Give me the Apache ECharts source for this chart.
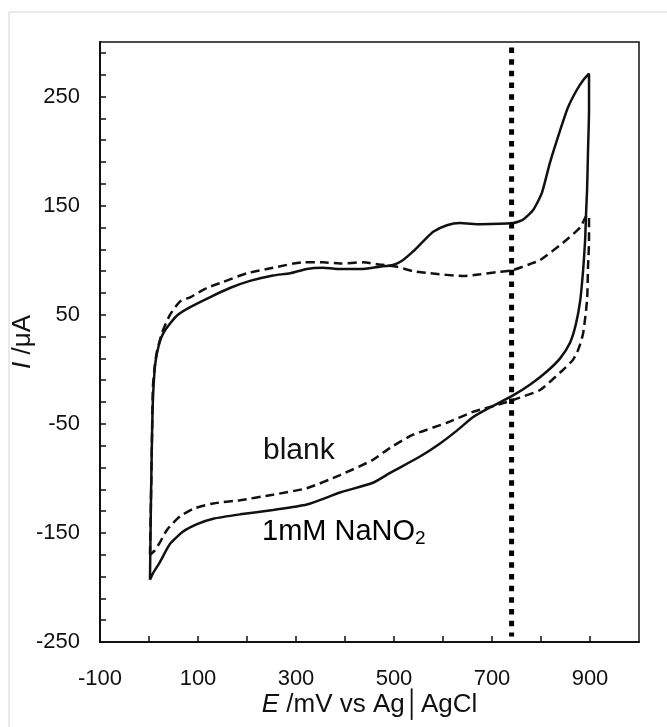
<!DOCTYPE html>
<html>
<head>
<meta charset="utf-8">
<script src="https://cdn.jsdelivr.net/npm/echarts@6/dist/echarts.min.js"></script>
<style>
html, body { margin: 0; padding: 0; background: #fff; }
#chart { width: 667px; height: 727px; }
</style>
</head>
<body>
<div id="chart"></div>
<script>
// tick labels shown on the axes
const xTickLabels = [-100, 100, 300, 500, 700, 900]
const yTickLabels = [-250, -150, -50, 50, 150, 250]

// 1mM NaNO2 (solid), E in mV, I in uA, traced round the loop
const nitriteE = [2, 4, 6, 8, 12, 16, 22, 29, 43, 59, 84, 124, 165, 206, 253, 288, 322, 355, 384, 437,
  471, 498, 518, 539, 559, 580, 608, 635, 676, 743, 763, 784, 802, 818, 839, 855, 873, 886, 898, 898,
  896, 894, 892, 890, 886, 880, 871, 859, 839, 812, 778, 743, 696, 661, 629, 594, 553, 492, 457, 390,
  322, 253, 186, 131, 98, 69, 43, 22, 8, 2]
const nitriteI = [-193, -120, -65, -28, 2, 14, 25, 33, 42, 50, 57, 66, 74.5, 81, 86, 88, 92, 93, 92, 92,
  94, 95.6, 100, 108, 117, 126, 132, 134, 133, 134, 137, 146, 162, 189, 219, 240, 256, 265, 271, 238,
  201, 164, 143, 118, 91, 63, 41, 24, 10, -2, -14, -24, -35, -44, -56, -68, -80, -95, -104, -113,
  -124, -129, -133, -137, -142, -149, -160, -177, -187, -193]

// blank (dashed)
const blankE = [2, 4, 6, 8, 12, 16, 27, 43, 63, 84, 118, 151, 200, 253, 314, 355, 390, 437, 471, 506,
  539, 573, 641, 676, 710, 743, 778, 798, 845, 880, 894, 898, 898, 896, 894, 886, 876, 865, 839, 798,
  757, 731, 676, 661, 608, 539, 492, 457, 390, 322, 253, 186, 131, 90, 63, 37, 22, 12, 2]
const blankI = [-170, -120, -65, -16, 4, 16, 34, 50, 62, 66, 74.5, 80, 88, 93, 98, 98, 97, 98, 96, 94,
  90, 88, 85.5, 87, 89, 91, 96.5, 100, 116, 130, 141, 141, 118, 94, 63.5, 33, 18, 8.5, -3, -19,
  -26, -30, -37, -39, -49, -60, -72, -83, -97, -109, -115, -120, -123, -128, -135, -147, -159, -166, -170]

// dotted marker line
const markerE = [740, 740]
const markerI = [295, -245]

const zip = (xs, ys) => xs.map((x, i) => [x, ys[i]])

const font = '"Liberation Sans", Arial, sans-serif'
const ink = '#111'

const chart = echarts.init(document.getElementById('chart'))

chart.setOption({
  animation: false,
  backgroundColor: '#fff',
  grid: {
    left: 100, right: 28, top: 42, bottom: 85,
    outerBoundsMode: 'none',
    show: true, borderColor: ink, borderWidth: 1.5
  },
  xAxis: {
    type: 'value',
    min: -100,
    max: 1000,
    interval: 100,
    name: '{i|E}{n| /mV vs Ag│AgCl}',
    nameLocation: 'middle',
    nameGap: 50,
    nameMoveOverlap: false,
    nameTextStyle: {
      rich: {
        i: { fontFamily: font, fontSize: 26, fontStyle: 'italic', color: ink },
        n: { fontFamily: font, fontSize: 26, color: ink }
      }
    },
    axisLine: { onZero: false, lineStyle: { color: ink, width: 2 } },
    axisTick: { inside: true, length: 6, lineStyle: { color: ink, width: 1.5 } },
    axisLabel: {
      margin: 26,
      fontFamily: font,
      fontSize: 22,
      color: ink,
      showMaxLabel: false,
      formatter: (v) => (xTickLabels.includes(v) ? String(v) : '')
    },
    splitLine: { show: false }
  },
  yAxis: {
    type: 'value',
    min: -250,
    max: 300,
    interval: 20,
    name: '{i|I}{n| /μA}',
    nameLocation: 'middle',
    nameRotate: 90,
    nameGap: 64,
    nameMoveOverlap: false,
    nameTextStyle: {
      rich: {
        i: { fontFamily: font, fontSize: 26, fontStyle: 'italic', color: ink },
        n: { fontFamily: font, fontSize: 26, color: ink }
      }
    },
    axisLine: { onZero: false, lineStyle: { color: ink, width: 2 } },
    axisTick: { inside: true, length: 6, lineStyle: { color: ink, width: 1.5 } },
    axisLabel: {
      margin: 20,
      fontFamily: font,
      fontSize: 22,
      color: ink,
      showMaxLabel: false,
      formatter: (v) => (yTickLabels.includes(v) ? String(v) : '')
    },
    splitLine: { show: false }
  },
  series: [
    {
      name: '1mM NaNO2',
      type: 'line',
      data: zip(nitriteE, nitriteI),
      showSymbol: false,
      smooth: 0.2,
      lineStyle: { color: ink, width: 2.5 }
    },
    {
      name: 'blank',
      type: 'line',
      data: zip(blankE, blankI),
      showSymbol: false,
      smooth: 0.2,
      lineStyle: { color: ink, width: 2.5, type: [9, 5] }
    },
    {
      name: 'marker',
      type: 'line',
      data: zip(markerE, markerI),
      showSymbol: false,
      lineStyle: { color: '#000', width: 5, type: [5.5, 6.2], cap: 'butt' }
    }
  ],
  graphic: [
    {
      type: 'line',
      shape: { x1: 9, y1: 12, x2: 667, y2: 12 },
      style: { stroke: '#d4d4d4', lineWidth: 1 }
    },
    {
      type: 'line',
      shape: { x1: 9, y1: 12, x2: 9, y2: 727 },
      style: { stroke: '#d4d4d4', lineWidth: 1 }
    },
    {
      type: 'text',
      x: 263,
      y: 451,
      style: { text: 'blank', font: '30px ' + font, fill: ink, verticalAlign: 'middle' }
    },
    {
      type: 'text',
      x: 262,
      y: 532,
      style: {
        text: '{a|1mM NaNO}{s|2}',
        verticalAlign: 'middle',
        rich: {
          a: { fontFamily: font, fontSize: 29, color: ink },
          s: { fontFamily: font, fontSize: 19, color: ink, padding: [14, 0, 0, 0] }
        }
      }
    }
  ]
})
</script>
</body>
</html>
